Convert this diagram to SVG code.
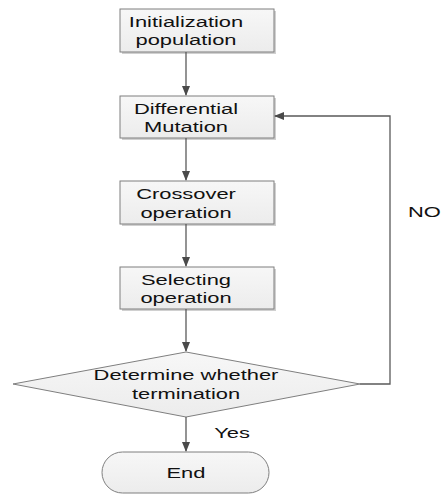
<svg xmlns="http://www.w3.org/2000/svg" width="441" height="495" viewBox="0 0 441 495">
<style>
.box{fill:url(#g);stroke:#7f7f7f;stroke-width:1}
.sh{fill:#d0d0d0}
.t{font-family:"Liberation Sans",Arial,sans-serif;font-size:15px;fill:#111;text-anchor:middle}
.c{fill:none;stroke:#5a5a5a;stroke-width:1.3}
</style>
<defs>
<linearGradient id="g" x1="0" y1="0" x2="0" y2="1"><stop offset="0" stop-color="#f7f7f7"/><stop offset="1" stop-color="#ececec"/></linearGradient>
<marker id="a" markerWidth="10" markerHeight="8" refX="9" refY="4" orient="auto" markerUnits="userSpaceOnUse"><path d="M0,0 L10,4 L0,8 Z" fill="#4a4a4a"/></marker>
</defs>
<g id="n1"><rect class="sh" x="122" y="11" width="154" height="43"/><rect class="box" x="120" y="9" width="154" height="43"/><text class="t" transform="translate(186,0) scale(1.46,1)"><tspan x="0" y="27">Initialization</tspan><tspan x="0" y="45">population</tspan></text></g>
<g id="n2"><rect class="sh" x="122" y="98" width="154" height="42"/><rect class="box" x="120" y="96" width="154" height="42"/><text class="t" transform="translate(186,0) scale(1.46,1)"><tspan x="0" y="114">Differential</tspan><tspan x="0" y="132">Mutation</tspan></text></g>
<g id="n3"><rect class="sh" x="122" y="183" width="154" height="43"/><rect class="box" x="120" y="181" width="154" height="43"/><text class="t" transform="translate(186,0) scale(1.46,1)"><tspan x="0" y="199">Crossover</tspan><tspan x="0" y="218">operation</tspan></text></g>
<g id="n4"><rect class="sh" x="122" y="269" width="154" height="42"/><rect class="box" x="120" y="267" width="154" height="42"/><text class="t" transform="translate(186,0) scale(1.46,1)"><tspan x="0" y="285">Selecting</tspan><tspan x="0" y="303">operation</tspan></text></g>
<g id="n5"><polygon class="box" points="186,352 360,384 186,417 13,384"/><text class="t" transform="translate(186,0) scale(1.46,1)"><tspan x="0" y="380">Determine whether</tspan><tspan x="0" y="399">termination</tspan></text></g>
<g id="n6"><rect class="box" x="102" y="452" width="167" height="41" rx="20.5"/><text class="t" transform="translate(186,478) scale(1.46,1)">End</text></g>
<g id="connectors">
<line class="c" x1="186" y1="52" x2="186" y2="95" marker-end="url(#a)"/>
<line class="c" x1="186" y1="138" x2="186" y2="180" marker-end="url(#a)"/>
<line class="c" x1="186" y1="224" x2="186" y2="266" marker-end="url(#a)"/>
<line class="c" x1="186" y1="309" x2="186" y2="351" marker-end="url(#a)"/>
<line class="c" x1="186" y1="417" x2="186" y2="451" marker-end="url(#a)"/>
<polyline class="c" points="360,384 390,384 390,116 275,116" marker-end="url(#a)"/>
<text class="t" transform="translate(232,438) scale(1.46,1)">Yes</text>
<text class="t" style="text-anchor:start" transform="translate(408,217) scale(1.46,1)">NO</text>
</g>
</svg>
